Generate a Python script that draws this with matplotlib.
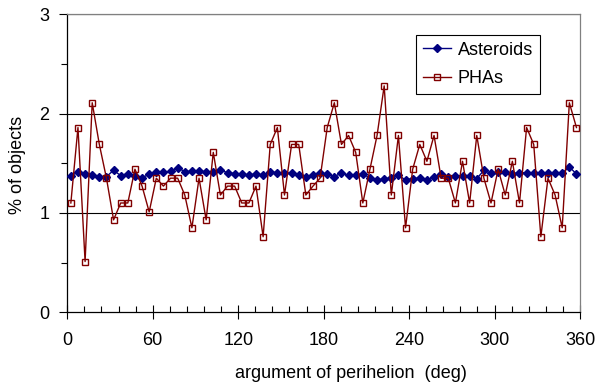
import numpy as np
import matplotlib
matplotlib.use("Agg")
import matplotlib.pyplot as plt
from matplotlib.ticker import MultipleLocator

plt.rcParams["font.family"] = "sans-serif"
plt.rcParams["font.sans-serif"] = ["Liberation Sans", "Arial", "DejaVu Sans"]

# bin centres of the 5-degree bins
angle = np.arange(2.5, 360, 5)

asteroids = [
    1.376, 1.409, 1.396, 1.386, 1.366, 1.366, 1.429, 1.376, 1.396, 1.369,
    1.356, 1.388, 1.409, 1.409, 1.419, 1.456, 1.416, 1.419, 1.423, 1.413,
    1.413, 1.430, 1.406, 1.396, 1.389, 1.382, 1.392, 1.382, 1.416, 1.402,
    1.402, 1.402, 1.382, 1.366, 1.386, 1.406, 1.389, 1.366, 1.402, 1.379,
    1.379, 1.389, 1.356, 1.329, 1.346, 1.349, 1.379, 1.332, 1.346, 1.349,
    1.329, 1.359, 1.396, 1.362, 1.369, 1.376, 1.376, 1.346, 1.429, 1.400,
    1.409, 1.409, 1.396, 1.402, 1.406, 1.399, 1.406, 1.402, 1.402, 1.402,
    1.463, 1.392,
]

phas = [
    1.10, 1.86, 0.51, 2.11, 1.69, 1.35, 0.93, 1.10, 1.10, 1.44,
    1.27, 1.01, 1.35, 1.27, 1.35, 1.35, 1.18, 0.85, 1.35, 0.93,
    1.61, 1.18, 1.27, 1.27, 1.10, 1.10, 1.27, 0.76, 1.69, 1.86,
    1.18, 1.69, 1.69, 1.18, 1.27, 1.35, 1.86, 2.11, 1.69, 1.78,
    1.61, 1.10, 1.44, 1.78, 2.28, 1.18, 1.78, 0.85, 1.44, 1.69,
    1.52, 1.78, 1.35, 1.35, 1.10, 1.52, 1.10, 1.78, 1.35, 1.10,
    1.44, 1.18, 1.52, 1.10, 1.86, 1.69, 0.76, 1.35, 1.18, 0.85,
    2.11, 1.86,
]

FS = 13

fig = plt.figure(figsize=(6.04, 3.89), dpi=100, facecolor="white")
ax = fig.add_axes([0.1114, 0.1975, 0.8489, 0.7655])

# horizontal gridlines
for yv in [1, 2, 3]:
    ax.axhline(yv, color="black", lw=0.8, zorder=1)

ax.plot(angle, asteroids, color="#000080", lw=1.0, marker="D", markersize=4.5,
        markerfacecolor="#000080", markeredgecolor="#000080", label="Asteroids", zorder=3)
ax.plot(angle, phas, color="#800000", lw=1.0, marker="s", markersize=4.5,
        markerfacecolor="none", markeredgecolor="#800000", markeredgewidth=1.0,
        label="PHAs", zorder=4)

ax.set_xlim(0, 360)
ax.set_ylim(0, 3)
ax.xaxis.set_major_locator(MultipleLocator(60))
ax.xaxis.set_minor_locator(MultipleLocator(12))
ax.yaxis.set_major_locator(MultipleLocator(1))
ax.yaxis.set_minor_locator(MultipleLocator(0.5))

ax.tick_params(axis="x", which="major", direction="inout", length=10, width=0.8,
               labelsize=FS, pad=9.5)
ax.tick_params(axis="x", which="minor", direction="in", length=4, width=0.8)
ax.tick_params(axis="y", which="major", direction="out", length=6, width=0.8,
               labelsize=FS, pad=7)
ax.tick_params(axis="y", which="minor", direction="out", length=4, width=0.8)

for s in ["left", "bottom"]:
    ax.spines[s].set_color("black")
    ax.spines[s].set_linewidth(0.9)
for s in ["top", "right"]:
    ax.spines[s].set_color("#808080")
    ax.spines[s].set_linewidth(0.9)

fig.text(351 / 604, 1 - 373 / 389, "argument of perihelion  (deg)", fontsize=FS,
         ha="center", va="center")
fig.text(18 / 604, 1 - 165 / 389, "% of objects", fontsize=FS, rotation=90,
         ha="center", va="center")

leg = ax.legend(loc="upper left", bbox_to_anchor=(0.6795, 0.931), fontsize=FS,
                frameon=True, fancybox=False, edgecolor="black", handlelength=1.6,
                borderpad=0.38, labelspacing=0.62, handletextpad=0.35,
                borderaxespad=0, framealpha=1)
leg.get_frame().set_linewidth(0.8)
leg.set_zorder(10)

fig.savefig("out.png", dpi=100, facecolor="white")
